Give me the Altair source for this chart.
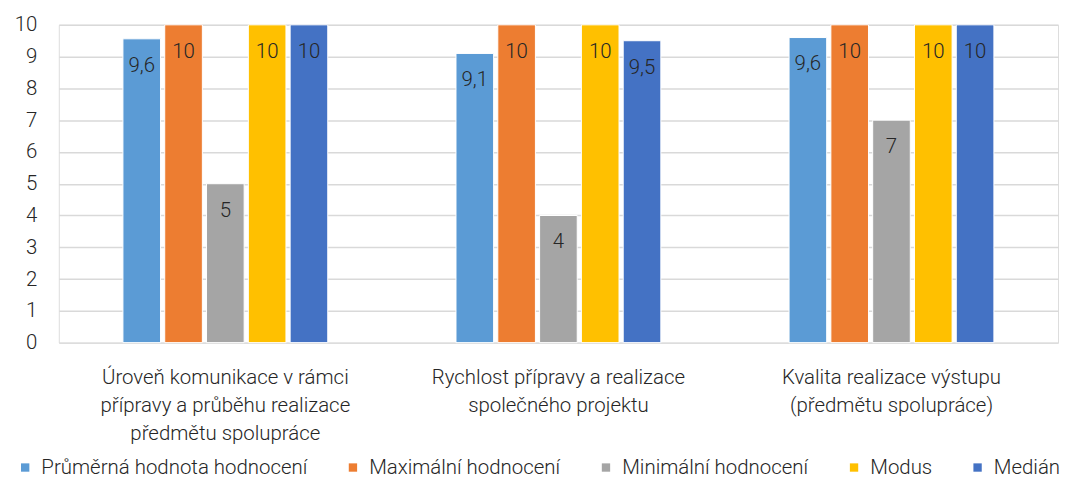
import altair as alt
import pandas as pd

categories = [
    "Úroveň komunikace v rámci|přípravy a průběhu realizace|předmětu spolupráce",
    "Rychlost přípravy a realizace|společného projektu",
    "Kvalita realizace výstupu|(předmětu spolupráce)",
]
series = ["Průměrná hodnota hodnocení", "Maximální hodnocení", "Minimální hodnocení", "Modus", "Medián"]
colors = ["#5B9BD5", "#ED7D31", "#A5A5A5", "#FFC000", "#4472C4"]
values = {
    "Průměrná hodnota hodnocení": [9.56, 9.1, 9.6],
    "Maximální hodnocení": [10, 10, 10],
    "Minimální hodnocení": [5, 4, 7],
    "Modus": [10, 10, 10],
    "Medián": [10, 9.5, 10],
}
y_ticks = list(range(0, 11))

rows = []
for s in series:
    for i, c in enumerate(categories):
        rows.append({"cat": c, "series": s, "value": values[s][i], "order": series.index(s)})
df = pd.DataFrame(rows)

FONT = "Roboto"
FW = 300
FS = 20.5
TEXT = "#262626"

base = alt.Chart(df).encode(
    x=alt.X("cat:N", sort=categories, title=None,
            scale=alt.Scale(paddingInner=0.385, paddingOuter=0.1925),
            axis=alt.Axis(labelExpr="split(datum.label, '|')", labelAngle=0, grid=False,
                          labelFontSize=FS, labelFont=FONT, labelFontWeight=FW, labelColor=TEXT,
                          labelLineHeight=28, labelPadding=25, ticks=False, labelLimit=500,
                          domain=False, labelBaseline="top")),
    xOffset=alt.XOffset("series:N", sort=series, scale=alt.Scale(paddingInner=0.1, paddingOuter=0)),
    y=alt.Y("value:Q", title=None,
            scale=alt.Scale(domain=[0, 10], nice=False),
            axis=alt.Axis(values=y_ticks, tickCount=11, ticks=False, domain=False,
                          labelOverlap=False,
                          labelFontSize=FS, labelFont=FONT, labelFontWeight=FW, labelColor=TEXT,
                          labelPadding=22, gridColor="#D9D9D9", gridWidth=1.5)),
)

bars = base.mark_bar(stroke="white", strokeWidth=1).encode(
    color=alt.Color("series:N", sort=series,
                    scale=alt.Scale(domain=series, range=colors),
                    legend=alt.Legend(title=None, orient="none", direction="horizontal",
                                      legendX=-44, legendY=434,
                                      symbolType="square", symbolSize=70,
                                      symbolStrokeWidth=0,
                                      labelFontSize=FS, labelFont=FONT, labelFontWeight=FW,
                                      labelColor=TEXT,
                                      columnPadding=35, labelOffset=6, labelLimit=400)),
)

labels = base.mark_text(baseline="middle", dy=27, fontSize=FS, font=FONT, fontWeight=FW,
                        color=TEXT).encode(
    text=alt.Text("lbl:N"),
).transform_calculate(
    lbl="replace(format(datum.value, '.1~f'), '.', ',')"
)

chart = alt.layer(bars, labels).properties(
    width=1003, height=319,
    padding={"left": 6, "top": 6, "right": 2, "bottom": 2},
).configure_view(
    stroke="transparent", strokeWidth=0
).configure_axisX(grid=False, domain=False).configure_axisY(domain=False).configure(
    background="white"
)

chart.save("out.html", embed_options={"renderer": "svg", "actions": False})
